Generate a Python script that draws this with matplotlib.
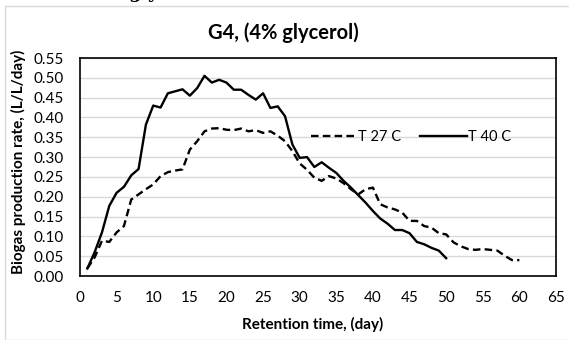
import matplotlib.pyplot as plt
import matplotlib.patches as mpatches

# === Data (day, L/L/day) ===
days_27 = list(range(1, 61))
rate_27 = [0.019, 0.047, 0.089, 0.086, 0.110, 0.126, 0.193, 0.206, 0.219, 0.231,
           0.252, 0.262, 0.266, 0.269, 0.319, 0.340, 0.365, 0.372, 0.373, 0.369,
           0.368, 0.372, 0.365, 0.368, 0.361, 0.365, 0.354, 0.340, 0.315, 0.284,
           0.268, 0.248, 0.240, 0.252, 0.246, 0.234, 0.219, 0.206, 0.219, 0.223,
           0.181, 0.173, 0.168, 0.160, 0.139, 0.139, 0.126, 0.122, 0.108, 0.105,
           0.085, 0.075, 0.068, 0.066, 0.068, 0.066, 0.064, 0.051, 0.040, 0.040]

days_40 = list(range(1, 51))
rate_40 = [0.019, 0.060, 0.110, 0.177, 0.210, 0.225, 0.254, 0.270, 0.382, 0.430,
           0.425, 0.461, 0.466, 0.471, 0.455, 0.474, 0.505, 0.488, 0.495, 0.488,
           0.470, 0.470, 0.457, 0.445, 0.461, 0.424, 0.428, 0.403, 0.332, 0.298,
           0.300, 0.275, 0.287, 0.273, 0.260, 0.240, 0.223, 0.204, 0.185, 0.164,
           0.145, 0.132, 0.116, 0.116, 0.108, 0.086, 0.080, 0.071, 0.064, 0.045]

x_ticks = list(range(0, 70, 5))
y_ticks = [i * 0.05 for i in range(12)]

FONT = "Lato"

fig = plt.figure(figsize=(5.69, 3.40), dpi=100)
ax = fig.add_axes([80 / 569, 64 / 340, 476 / 569, 218 / 340])

# Excel-style chart area border and cut-off caption above it
fig.patches.append(mpatches.Rectangle((5 / 569, 0), 1, 334 / 340,
                                      transform=fig.transFigure, fill=False,
                                      edgecolor="#d9d9d9", linewidth=1.0))
fig.text(137 / 569, 1 + 1.5 / 340, "ng y", ha="center", va="baseline",
         family="DejaVu Serif", fontweight="bold", fontsize=13)

ax.plot(days_27, rate_27, color="black", linewidth=1.7,
        linestyle=(0, (3.2, 1.8)), label="T 27 C")
ax.plot(days_40, rate_40, color="black", linewidth=1.7, label="T 40 C")

ax.set_xlim(0, 65)
ax.set_ylim(0, 0.55)
ax.set_xticks(x_ticks)
ax.set_yticks(y_ticks)
ax.set_xticklabels([str(t) for t in x_ticks], family=FONT, fontsize=11)
ax.set_yticklabels([f"{t:.2f}" for t in y_ticks], family=FONT, fontsize=11)
ax.tick_params(axis="both", length=0)
ax.tick_params(axis="x", pad=11)
ax.tick_params(axis="y", pad=12)

ax.grid(axis="y", color="#d9d9d9", linewidth=1.0)
ax.set_axisbelow(True)
for s in ax.spines.values():
    s.set_color("black")
    s.set_linewidth(1.2)

ax.set_xlabel("Retention time, (day)", family=FONT, fontweight="bold",
              fontsize=11)
ax.xaxis.set_label_coords((313 - 80) / 476, -(317 - 276) / 218)
ax.set_ylabel("Biogas production rate, (L/L/day)", family=FONT,
              fontweight="bold", fontsize=11)
ax.yaxis.set_label_coords(-(80 - 26) / 476, (276 - 162) / 218)
fig.text(283 / 569, 1 - 33 / 340, "G4, (4% glycerol)", ha="center",
         va="center", family=FONT, fontweight="bold", fontsize=14.5)

ax.legend(loc="center", bbox_to_anchor=(0.695, 0.638), ncol=2, frameon=False,
          handlelength=3.2, handletextpad=0.05, columnspacing=1.3,
          prop={"family": FONT, "size": 10.5})

fig.savefig("out.png", dpi=100)
